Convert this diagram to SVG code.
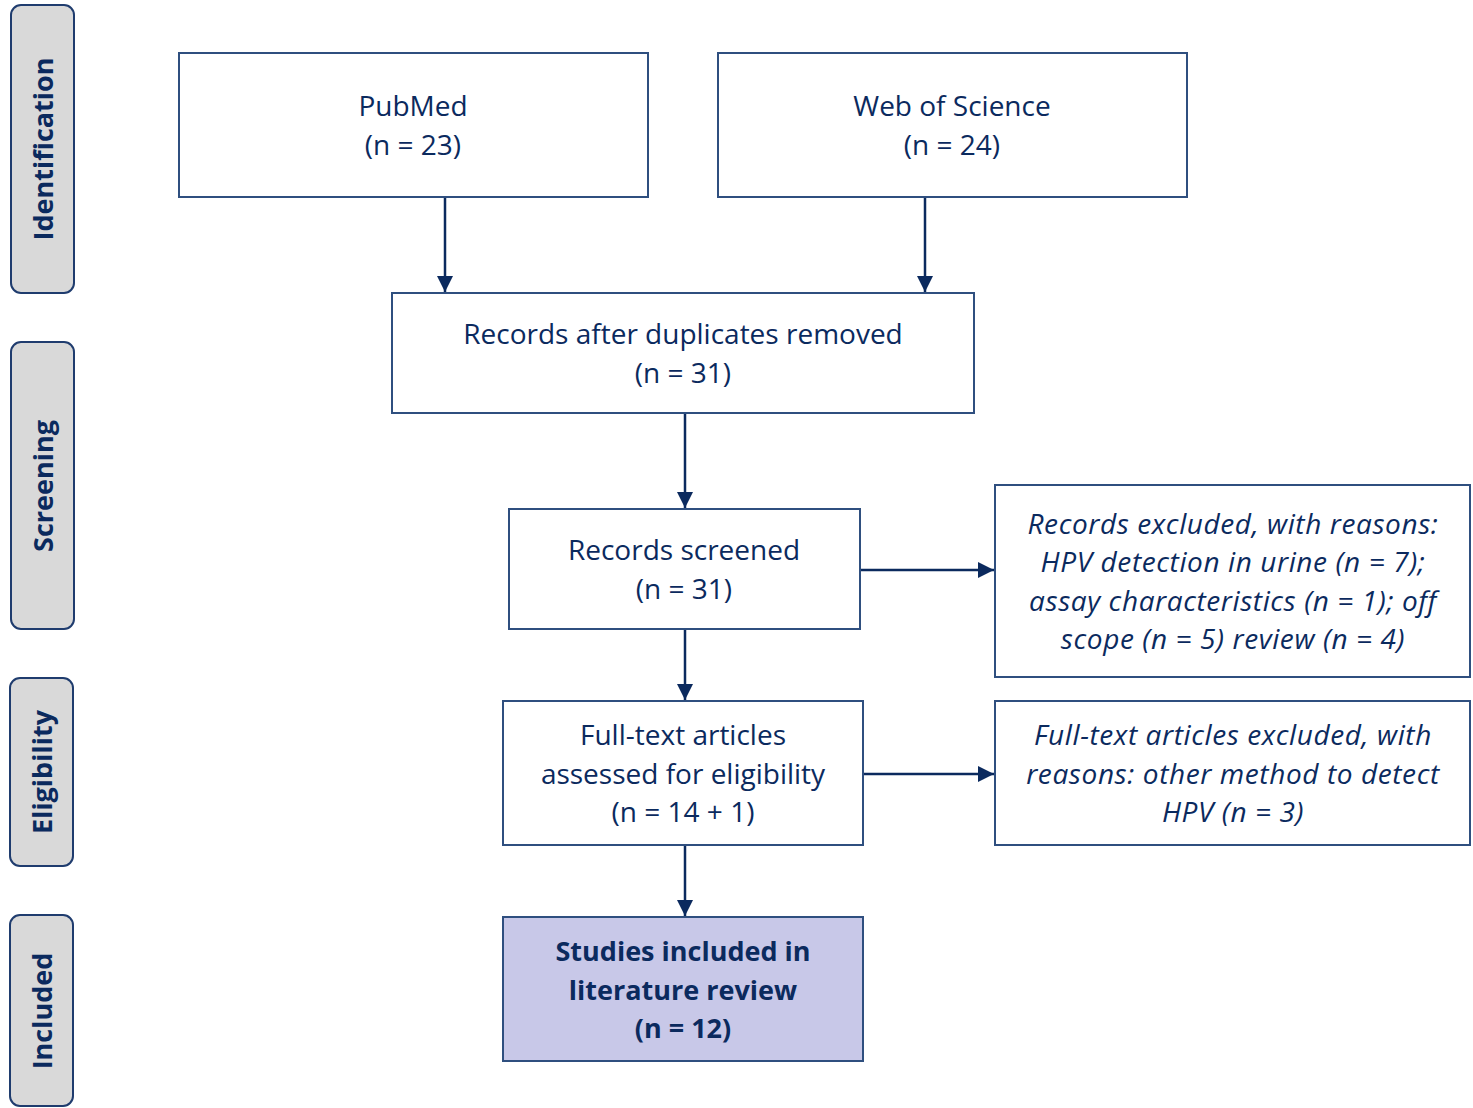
<svg xmlns="http://www.w3.org/2000/svg" width="1473" height="1108" viewBox="0 0 1473 1108">
<style>
.box{fill:#fff;stroke:#2f4f7f;stroke-width:2}
.inc{fill:#c8c8e8;stroke:#2f4f7f;stroke-width:2}
.side{fill:#d9d9d9;stroke:#1f3c6e;stroke-width:2}
.t{font-family:"Open Sans","Noto Sans",sans-serif;font-size:28px;fill:#0b2a5e;text-anchor:middle}
.i{font-style:italic;letter-spacing:0.6px}
.b{font-weight:bold;font-size:27px}
.s{font-family:"Open Sans","Noto Sans",sans-serif;font-size:27px;font-weight:bold;fill:#0b2a5e;text-anchor:middle}
.c{stroke:#0b2a5e;stroke-width:2.5;fill:none}
</style>
<defs>
<marker id="a" viewBox="0 0 16 16" refX="16" refY="8" markerWidth="16" markerHeight="16" orient="auto" markerUnits="userSpaceOnUse">
<path d="M0,0 L16,8 L0,16 z" fill="#0b2a5e"/>
</marker>
</defs>
<g id="side-identification"><rect class="side" x="11" y="5" width="63" height="288" rx="10"/><text class="s" transform="translate(53,149) rotate(-90)">Identification</text></g>
<g id="side-screening"><rect class="side" x="11" y="342" width="63" height="287" rx="10"/><text class="s" transform="translate(53,486) rotate(-90)">Screening</text></g>
<g id="side-eligibility"><rect class="side" x="10" y="678" width="63" height="188" rx="10"/><text class="s" transform="translate(52,772) rotate(-90)">Eligibility</text></g>
<g id="side-included"><rect class="side" x="10" y="915" width="63" height="191" rx="10"/><text class="s" transform="translate(52,1011) rotate(-90)">Included</text></g>
<g id="connectors">
<line class="c" x1="445" y1="197" x2="445" y2="292" marker-end="url(#a)"/>
<line class="c" x1="925" y1="197" x2="925" y2="292" marker-end="url(#a)"/>
<line class="c" x1="685" y1="413" x2="685" y2="508" marker-end="url(#a)"/>
<line class="c" x1="860" y1="570" x2="994" y2="570" marker-end="url(#a)"/>
<line class="c" x1="685" y1="629" x2="685" y2="700" marker-end="url(#a)"/>
<line class="c" x1="863" y1="774" x2="994" y2="774" marker-end="url(#a)"/>
<line class="c" x1="685" y1="845" x2="685" y2="916" marker-end="url(#a)"/>
</g>
<g id="pubmed"><rect class="box" x="179" y="53" width="469" height="144"/><text class="t" x="413" y="116">PubMed</text><text class="t" x="413" y="155">(n = 23)</text></g>
<g id="wos"><rect class="box" x="718" y="53" width="469" height="144"/><text class="t" x="952" y="116">Web of Science</text><text class="t" x="952" y="155">(n = 24)</text></g>
<g id="dedup"><rect class="box" x="392" y="293" width="582" height="120"/><text class="t" x="683" y="344">Records after duplicates removed</text><text class="t" x="683" y="383">(n = 31)</text></g>
<g id="screened"><rect class="box" x="509" y="509" width="351" height="120"/><text class="t" x="684" y="560">Records screened</text><text class="t" x="684" y="599">(n = 31)</text></g>
<g id="excluded"><rect class="box" x="995" y="485" width="475" height="192"/>
<text class="t i" x="1233" y="534">Records excluded, with reasons:</text>
<text class="t i" x="1233" y="572">HPV detection in urine (n = 7);</text>
<text class="t i" x="1233" y="611">assay characteristics (n = 1); off</text>
<text class="t i" x="1233" y="649">scope (n = 5) review (n = 4)</text></g>
<g id="fulltext"><rect class="box" x="503" y="701" width="360" height="144"/>
<text class="t" x="683" y="745">Full-text articles</text>
<text class="t" x="683" y="784">assessed for eligibility</text>
<text class="t" x="683" y="822">(n = 14 + 1)</text></g>
<g id="ft-excluded"><rect class="box" x="995" y="701" width="475" height="144"/>
<text class="t i" x="1233" y="745">Full-text articles excluded, with</text>
<text class="t i" x="1233" y="784">reasons: other method to detect</text>
<text class="t i" x="1233" y="822">HPV (n = 3)</text></g>
<g id="included"><rect class="inc" x="503" y="917" width="360" height="144"/>
<text class="t b" x="683" y="961">Studies included in</text>
<text class="t b" x="683" y="1000">literature review</text>
<text class="t b" x="683" y="1038">(n = 12)</text></g>
</svg>
